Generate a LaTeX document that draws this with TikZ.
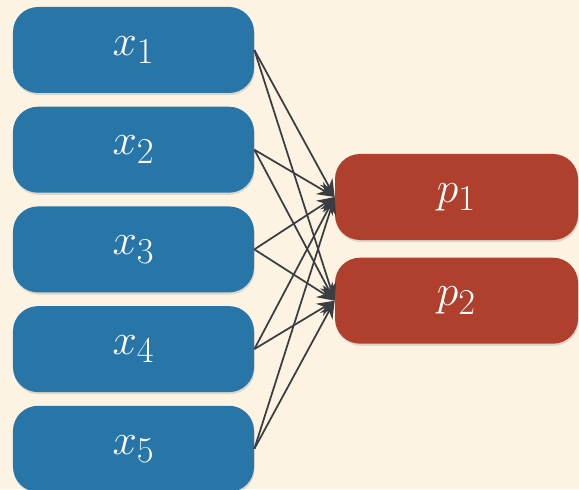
\documentclass[tikz,border=0pt]{standalone}
\usepackage{tikz}
\usetikzlibrary{positioning,arrows.meta,shadows}

\definecolor{paper}{RGB}{253,243,226}
\definecolor{inblue}{RGB}{40,118,168}
\definecolor{outred}{RGB}{176,64,46}
\definecolor{wire}{RGB}{58,62,66}

\tikzset{
	unit/.style={rounded corners=0.5cm, minimum width=4.82cm, minimum height=1.72cm,
		text=white, font=\fontsize{30}{34}\selectfont,
		drop shadow={opacity=0.25, shadow xshift=0.4pt, shadow yshift=-1.2pt}},
	input/.style={unit, fill=inblue},
	output/.style={unit, fill=outred, minimum width=4.86cm},
	link/.style={-{Stealth[length=10pt,width=8pt]}, color=wire, line width=1pt}
}

\begin{document}
\begin{tikzpicture}
	% background
	\fill[paper] (0,0) rectangle (11.58,9.78);
	\useasboundingbox (0,0) rectangle (11.58,9.78);
	% input units
	\node[input] (x1) at (2.67,8.78) {$x_1$};
	\node[input, below=0.26cm of x1] (x2) {$x_2$};
	\node[input, below=0.26cm of x2] (x3) {$x_3$};
	\node[input, below=0.26cm of x3] (x4) {$x_4$};
	\node[input, below=0.26cm of x4] (x5) {$x_5$};
	% output units
	\node[output] (p1) at (9.13,5.84) {$p_1$};
	\node[output, below=0.34cm of p1] (p2) {$p_2$};
	% every input feeds both outputs
	\draw[link] (x1.east) -- (p1.west);
	\draw[link] (x1.east) -- (p2.west);
	\draw[link] (x2.east) -- (p1.west);
	\draw[link] (x2.east) -- (p2.west);
	\draw[link] (x3.east) -- (p1.west);
	\draw[link] (x3.east) -- (p2.west);
	\draw[link] (x4.east) -- (p1.west);
	\draw[link] (x4.east) -- (p2.west);
	\draw[link] (x5.east) -- (p1.west);
	\draw[link] (x5.east) -- (p2.west);
\end{tikzpicture}
\end{document}
